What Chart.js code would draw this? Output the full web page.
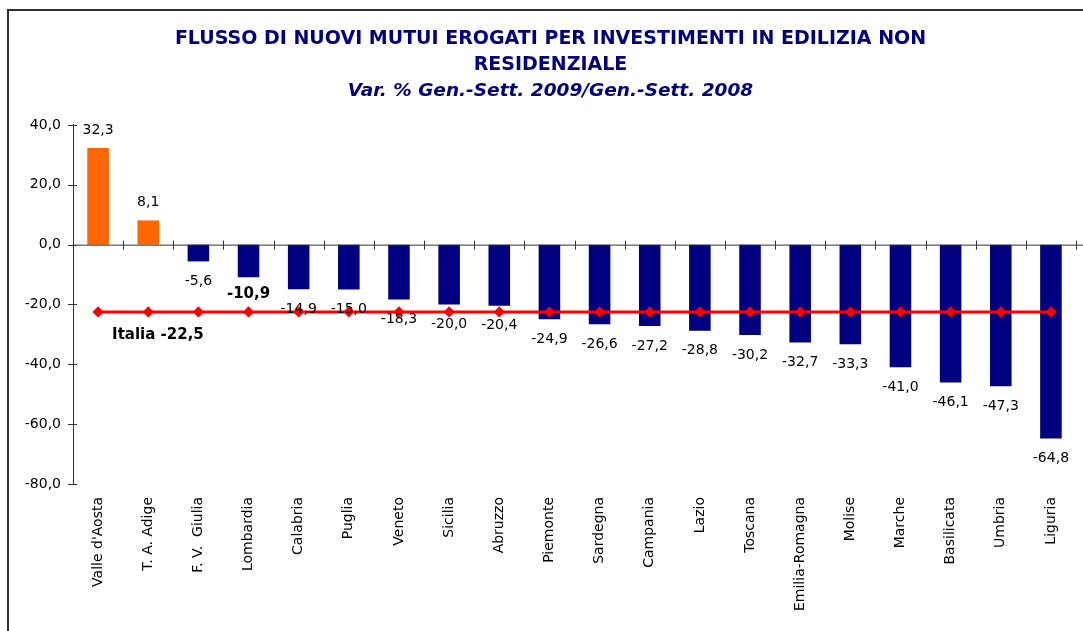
<!DOCTYPE html>
<html>
<head>
<meta charset="utf-8">
<script src="https://cdn.jsdelivr.net/npm/chart.js@4.4.1/dist/chart.umd.min.js"></script>
<style>
body{margin:0;background:#fff;overflow:hidden;}
#frame{position:absolute;left:7px;top:9px;width:1200px;height:800px;border-left:2px solid #333;border-top:2px solid #333;}
#chart{position:absolute;left:0;top:0;}
</style>
</head>
<body>
<div id="frame"></div>
<canvas id="chart" width="1083" height="631"></canvas>
<script>
const categories=["Valle d'Aosta","T. A. Adige","F. V.  Giulia","Lombardia","Calabria","Puglia","Veneto","Sicilia","Abruzzo","Piemonte","Sardegna","Campania","Lazio","Toscana","Emilia-Romagna","Molise","Marche","Basilicata","Umbria","Liguria"];
const values=[32.3,8.1,-5.6,-10.9,-14.9,-15.0,-18.3,-20.0,-20.4,-24.9,-26.6,-27.2,-28.8,-30.2,-32.7,-33.3,-41.0,-46.1,-47.3,-64.8];
const italia=[-22.5,-22.5,-22.5,-22.5,-22.5,-22.5,-22.5,-22.5,-22.5,-22.5,-22.5,-22.5,-22.5,-22.5,-22.5,-22.5,-22.5,-22.5,-22.5,-22.5];
const yTicks=[40,20,0,-20,-40,-60,-80];

const fmt=v=>v.toFixed(1).replace(".",",");
const navy="#000080";

// axis line at zero, cross ticks, value labels
const extras={
    id:"extras",
    afterDatasetsDraw(chart){
        const c=chart.ctx;
        const xs=chart.scales.x, ys=chart.scales.y;
        const y0=ys.getPixelForValue(0);
        c.save();
        c.strokeStyle="#333";
        c.lineWidth=1;
        c.beginPath();
        c.moveTo(xs.left,y0+0.5);c.lineTo(chart.width,y0+0.5);
        for(let i=1;i<=categories.length;i++){
            const x=Math.round(xs.getPixelForValue(i-0.5))+0.5;
            c.moveTo(x,y0-4);c.lineTo(x,y0+5);
        }
        yTicks.forEach(t=>{
            const y=Math.round(ys.getPixelForValue(t))+0.5;
            c.moveTo(xs.left-5,y);c.lineTo(xs.left+4,y);
        });
        c.stroke();

        const meta=chart.getDatasetMeta(1);
        c.fillStyle="#000";
        c.textAlign="center";
        c.textBaseline="middle";
        meta.data.forEach((bar,i)=>{
            const v=values[i];
            c.font=(i===3?"bold 15px":"14px")+" 'DejaVu Sans'";
            c.fillText(fmt(v),bar.x,v>=0?bar.y-18:bar.y+(i===3?17:20));
        });

        c.font="bold 15px 'DejaVu Sans'";
        c.textAlign="left";
        c.fillText("Italia "+fmt(italia[0]),xs.getPixelForValue(0)+14,ys.getPixelForValue(italia[0])+23);
        c.restore();
    }
};

new Chart(document.getElementById("chart"),{
    type:"bar",
    data:{
        labels:categories,
        datasets:[{
            type:"line",
            label:"Italia",
            data:italia,
            borderColor:"#ff0000",
            backgroundColor:"#ff0000",
            borderWidth:3,
            pointStyle:"rectRot",
            pointRadius:3.5,
            order:0
        },{
            label:"Var. %",
            data:values,
            backgroundColor:values.map(v=>v>=0?"#ff6600":navy),
            barPercentage:0.43,
            categoryPercentage:1,
            order:1
        }]
    },
    options:{
        responsive:false,
        animation:false,
        layout:{padding:{left:20,right:2,top:0,bottom:0}},
        plugins:{
            legend:{display:false},
            tooltip:{enabled:false},
            title:{
                display:true,
                text:["FLUSSO DI NUOVI MUTUI EROGATI PER INVESTIMENTI IN EDILIZIA NON","RESIDENZIALE"],
                color:navy,
                font:{family:"'DejaVu Sans'",size:19,weight:"bold",lineHeight:1.368},
                padding:{top:26,bottom:0}
            },
            subtitle:{
                display:true,
                text:"Var. % Gen.-Sett. 2009/Gen.-Sett. 2008",
                color:navy,
                font:{family:"'DejaVu Sans'",size:18.5,weight:"bold",style:"italic",lineHeight:1.405},
                padding:{top:0,bottom:21}
            }
        },
        scales:{
            x:{
                grid:{display:false,drawTicks:false},
                border:{display:false},
                afterFit(s){s.height=147;},
                ticks:{
                    color:"#000",
                    font:{family:"'DejaVu Sans'",size:14},
                    minRotation:90,maxRotation:90,autoSkip:false,padding:13
                }
            },
            y:{
                min:-80,max:40,
                grid:{display:false,drawTicks:false},
                border:{display:true,color:"#333"},
                afterFit(s){s.width=53;},
                afterBuildTicks(s){s.ticks=yTicks.map(v=>({value:v}));},
                ticks:{
                    color:"#000",
                    font:{family:"'DejaVu Sans'",size:14},
                    padding:12,
                    callback:v=>fmt(v)
                }
            }
        }
    },
    plugins:[extras]
});
</script>
</body>
</html>
